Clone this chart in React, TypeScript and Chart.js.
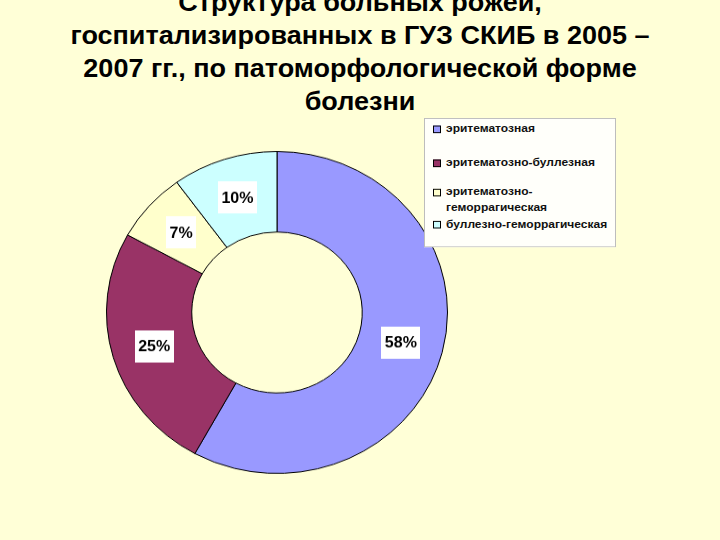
import React, { useEffect, useRef } from "react";
import { Chart, registerables } from "chart.js";

Chart.register(...registerables);

// ---- data ----
const titleLines = [
  "Структура больных рожей,",
  "госпитализированных в ГУЗ СКИБ в 2005 –",
  "2007 гг., по патоморфологической форме",
  "болезни",
];
const categories = [
  "эритематозная",
  "эритематозно-буллезная",
  "эритематозно-геморрагическая",
  "буллезно-геморрагическая",
];
const legendLines = [
  ["эритематозная"],
  ["эритематозно-буллезная"],
  ["эритематозно-", "геморрагическая"],
  ["буллезно-геморрагическая"],
];
const shares = [58, 25, 7, 10];
const sliceColors = ["#9999FF", "#993366", "#FFFFCC", "#CCFFFF"];

// ---- layout / style ----
const BG = "#FFFFD7";
const SQUEEZE = 540 / 572;
const FONT = '"Liberation Sans", Arial, "DejaVu Sans", sans-serif';
const legendItemTops = [2, 38, 69, 103];

const labelPlugin = {
  id: "pctLabels",
  afterDatasetsDraw(chart: any) {
    const ctx = chart.ctx;
    const meta = chart.getDatasetMeta(0);
    ctx.save();
    ctx.font = `bold 16px ${FONT}`;
    ctx.textAlign = "center";
    ctx.textBaseline = "middle";
    meta.data.forEach((arc: any, i: number) => {
      const p = arc.getCenterPoint();
      const txt = `${shares[i]}%`;
      const w = ctx.measureText(txt).width + 7;
      const h = 34;
      ctx.fillStyle = "#FFFFFF";
      ctx.fillRect(Math.round(p.x - w / 2), Math.round(p.y - h / 2), Math.round(w), h);
      ctx.fillStyle = "#000000";
      ctx.fillText(txt, p.x, p.y + 1);
    });
    ctx.restore();
  },
};

export default function App() {
  const ref = useRef<HTMLCanvasElement | null>(null);

  useEffect(() => {
    document.body.style.margin = "0";
    document.body.style.background = BG;
    if (!ref.current) return;
    const chart = new Chart(ref.current, {
      type: "doughnut",
      data: {
        labels: categories,
        datasets: [
          {
            data: shares,
            backgroundColor: sliceColors,
            borderColor: "#000000",
            borderWidth: 1,
          },
        ],
      },
      options: {
        responsive: true,
        maintainAspectRatio: false,
        animation: false,
        cutout: "50%",
        layout: { padding: 0 },
        plugins: {
          legend: { display: false },
          tooltip: { enabled: false },
          title: { display: false },
        },
      },
      plugins: [labelPlugin],
    });
    return () => chart.destroy();
  }, []);

  return (
    <div
      style={{
        position: "absolute",
        left: 0,
        top: 0,
        width: 720,
        height: 572,
        background: BG,
        overflow: "hidden",
        transform: `scaleY(${SQUEEZE})`,
        transformOrigin: "0 0",
        fontFamily: FONT,
      }}
    >
      <div
        style={{
          position: "absolute",
          left: 0,
          top: -14,
          width: 720,
          textAlign: "center",
          fontWeight: "bold",
          fontSize: 27,
          lineHeight: "35px",
          color: "#000",
        }}
      >
        {titleLines.map((l, i) => (
          <div key={i}>{l}</div>
        ))}
      </div>

      <div style={{ position: "absolute", left: 106, top: 160, width: 342, height: 342 }}>
        <canvas ref={ref} />
      </div>

      <div
        style={{
          position: "absolute",
          left: 424,
          top: 125,
          width: 192,
          height: 137,
          boxSizing: "border-box",
          border: "1px solid #BDBDBD",
          background: "#FFFFFA",
        }}
      >
        {legendLines.map((lines, i) => (
          <div
            key={i}
            style={{
              position: "absolute",
              left: 8,
              top: legendItemTops[i],
              display: "flex",
              alignItems: "flex-start",
            }}
          >
            <div
              style={{
                width: 6,
                height: 6,
                marginTop: 5,
                marginRight: 5,
                border: "1px solid #000",
                background: sliceColors[i],
                flex: "none",
              }}
            />
            <div
              style={{
                fontSize: 12,
                fontWeight: "bold",
                lineHeight: "17px",
                color: "#111",
                whiteSpace: "nowrap",
              }}
            >
              {lines.map((l, j) => (
                <div key={j}>{l}</div>
              ))}
            </div>
          </div>
        ))}
      </div>
    </div>
  );
}
